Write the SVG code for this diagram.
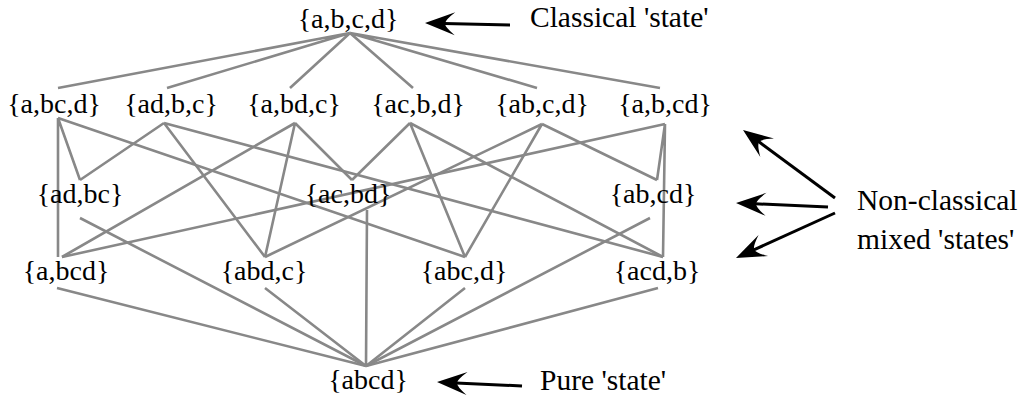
<svg xmlns="http://www.w3.org/2000/svg" width="1027" height="403" viewBox="0 0 1027 403">
<style>
text{font-family:'Liberation Serif','Times New Roman',serif;fill:#000}
.n{font-size:28px;text-anchor:middle}
.l{font-size:29.5px}
.e{stroke:#888;stroke-width:2.6;fill:none;stroke-linecap:butt}
.a{stroke:#000;stroke-width:3;fill:none;marker-end:url(#ah)}
</style>
<defs>
<marker id="ah" viewBox="-32 -13 34 26" refX="-19" refY="0" markerWidth="34" markerHeight="26" markerUnits="userSpaceOnUse" orient="auto">
<path d="M0,0 L-30,-11.5 Q-20,-3.5 -20,0 Q-20,3.5 -30,11.5 Z" fill="#000"/>
</marker>
</defs>
<rect width="1027" height="403" fill="#fff"/>
<g id="connectors">
<path class="e" d="M350,33 L58,88 M350,33 L167,88 M350,33 L290,88 M350,33 L413,88 M350,33 L537,88 M350,33 L660,88"/>
<path class="e" d="M58,118 L465,257 M58,118 L80,180 M58,118 L58,257"/>
<path class="e" d="M164,123 L265,257 M164,123 L663,257 M164,123 L80,180"/>
<path class="e" d="M295,123 L265,257 M295,123 L352,180 M295,123 L62,257"/>
<path class="e" d="M410,123 L465,257 M410,123 L663,257 M410,123 L352,180"/>
<path class="e" d="M542,124 L465,257 M542,124 L265,257 M542,124 L657,180"/>
<path class="e" d="M665,124 L657,180 M665,124 L663,257 M665,124 L62,257"/>
<path class="e" d="M80,218 L366,366 M367,210 L366,366 M650,218 L366,366"/>
<path class="e" d="M57,288 L366,366 M265,288 L366,366 M465,288 L366,366 M658,288 L366,366"/>
</g>
<g id="n-abcd-top"><text class="n" x="348" y="28">{a,b,c,d}</text></g>
<g id="n-a-bc-d"><text class="n" x="54" y="113">{a,bc,d}</text></g>
<g id="n-ad-b-c"><text class="n" x="171" y="113">{ad,b,c}</text></g>
<g id="n-a-bd-c"><text class="n" x="294" y="113">{a,bd,c}</text></g>
<g id="n-ac-b-d"><text class="n" x="418" y="113">{ac,b,d}</text></g>
<g id="n-ab-c-d"><text class="n" x="542" y="113">{ab,c,d}</text></g>
<g id="n-a-b-cd"><text class="n" x="665" y="113">{a,b,cd}</text></g>
<g id="n-ad-bc"><text class="n" x="80" y="203">{ad,bc}</text></g>
<g id="n-ac-bd"><text class="n" x="348" y="203">{ac,bd}</text></g>
<g id="n-ab-cd"><text class="n" x="653" y="203">{ab,cd}</text></g>
<g id="n-a-bcd"><text class="n" x="66" y="280">{a,bcd}</text></g>
<g id="n-abd-c"><text class="n" x="264" y="280">{abd,c}</text></g>
<g id="n-abc-d"><text class="n" x="464" y="280">{abc,d}</text></g>
<g id="n-acd-b"><text class="n" x="657" y="280">{acd,b}</text></g>
<g id="n-abcd"><text class="n" x="368" y="389">{abcd}</text></g>
<g id="ann-classical">
<line class="a" x1="510" y1="25" x2="444" y2="23.4"/>
<text class="l" x="530" y="27">Classical 'state'</text>
</g>
<g id="ann-nonclassical">
<line class="a" x1="835" y1="198" x2="758.3" y2="141.3"/>
<line class="a" x1="828" y1="207" x2="755" y2="203.8"/>
<line class="a" x1="835" y1="213" x2="753.3" y2="250.1"/>
<text class="l" x="857" y="210">Non-classical</text>
<text class="l" x="857" y="249">mixed 'states'</text>
</g>
<g id="ann-pure">
<line class="a" x1="522" y1="386" x2="456" y2="382.9"/>
<text class="l" x="540" y="390">Pure 'state'</text>
</g>
</svg>
